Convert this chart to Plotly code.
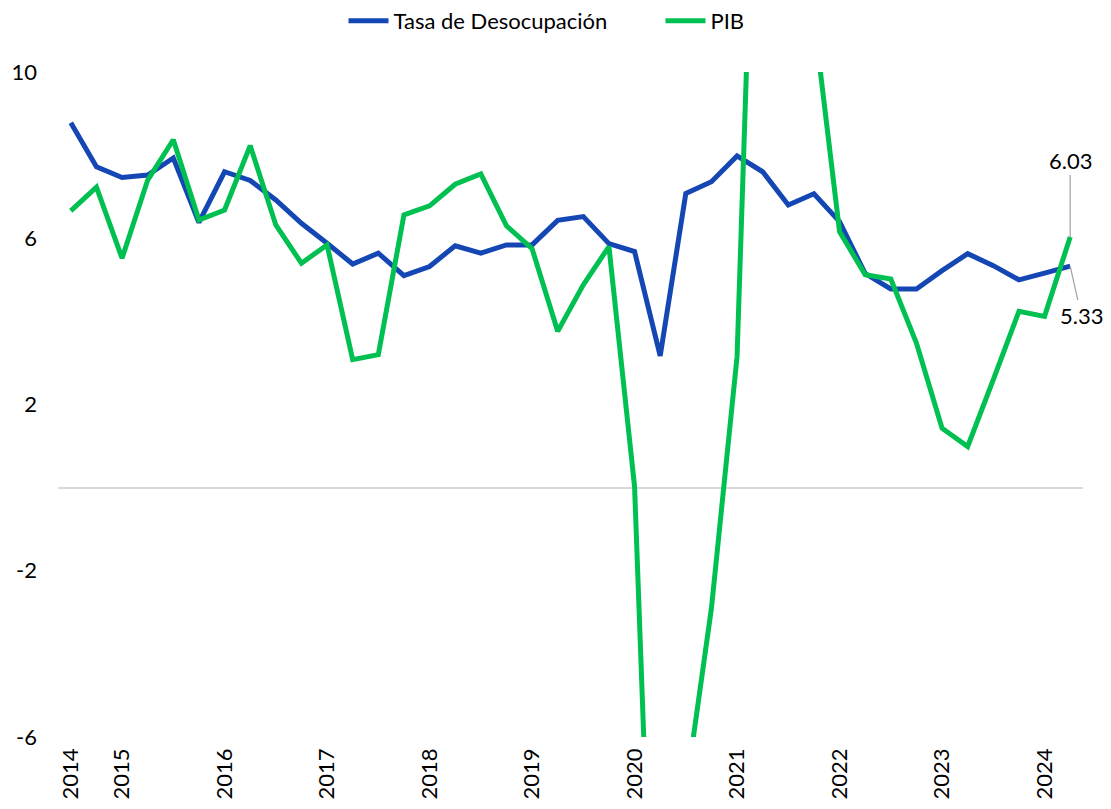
import plotly.graph_objects as go

# Quarterly, 2014 Q3 .. 2024 Q2
quarters = [f"{y}-T{q}" for y in range(2014, 2025) for q in range(1, 5)][2:42]

desocupacion = [8.78, 7.72, 7.46, 7.52, 7.93, 6.38, 7.60, 7.39, 6.92, 6.36,
                5.88, 5.38, 5.64, 5.10, 5.32, 5.82, 5.64, 5.84, 5.84, 6.43,
                6.52, 5.87, 5.68, 3.17, 7.08, 7.36, 7.98, 7.60, 6.80, 7.07,
                6.40, 5.15, 4.78, 4.78, 5.22, 5.63, 5.34, 5.00, 5.16, 5.33]

pib = [6.66, 7.23, 5.52, 7.40, 8.37, 6.44, 6.68, 8.23, 6.32, 5.40,
       5.84, 3.08, 3.20, 6.56, 6.78, 7.30, 7.55, 6.30, 5.75, 3.76,
       4.88, 5.80, 0.03, -16.8, -7.3, -2.9, 3.15, 22.0, 13.4, 11.3,
       6.16, 5.12, 5.02, 3.48, 1.43, 0.99, 2.60, 4.24, 4.12, 6.03]

tick_idx = [0, 2, 6, 10, 14, 18, 22, 26, 30, 34, 38]
tick_text = ["2014", "2015", "2016", "2017", "2018", "2019", "2020",
             "2021", "2022", "2023", "2024"]

BLUE = "#1447b4"
GREEN = "#00c052"
FONT = "Lato"
FS = 22

fig = go.Figure()
fig.add_trace(go.Scatter(x=quarters, y=desocupacion, mode="lines",
                         name="Tasa de Desocupación",
                         line=dict(color=BLUE, width=5)))
fig.add_trace(go.Scatter(x=quarters, y=pib, mode="lines", name="PIB",
                         line=dict(color=GREEN, width=5)))

fig.add_annotation(x=quarters[-1], y=pib[-1], text=f"{pib[-1]:.2f}",
                   showarrow=True, arrowhead=0, arrowwidth=1.3,
                   arrowcolor="#a6a6a6", ax=0, ay=-77,
                   font=dict(size=FS, color="#000000", family=FONT))
fig.add_annotation(x=quarters[-1], y=desocupacion[-1],
                   text=f"{desocupacion[-1]:.2f}",
                   showarrow=True, arrowhead=0, arrowwidth=1.3,
                   arrowcolor="#a6a6a6", ax=11, ay=49,
                   font=dict(size=FS, color="#000000", family=FONT))

fig.update_layout(
    width=1111, height=809,
    margin=dict(l=58, r=28, t=72, b=72, autoexpand=False),
    paper_bgcolor="white", plot_bgcolor="white",
    font=dict(family=FONT, size=FS, color="#000000"),
    showlegend=True,
    legend=dict(orientation="h", xref="container", yref="container",
                x=0.5945, xanchor="center", y=1.0, yanchor="top",
                font=dict(size=FS), itemwidth=40,
                entrywidth=262, entrywidthmode="pixels"),
    xaxis=dict(type="category", range=[-0.5, len(quarters) - 0.5],
               tickmode="array", tickvals=[quarters[i] for i in tick_idx],
               ticktext=tick_text, tickangle=-90, showgrid=False,
               showline=False, zeroline=False, ticks="",
               ticklabelstandoff=6, automargin=False),
    yaxis=dict(range=[-6, 10], tickmode="array",
               tickvals=[-6, -2, 2, 6, 10],
               ticktext=["-6", "-2", "2", "6", "10"],
               showgrid=False, showline=False, zeroline=True,
               zerolinecolor="#d9d9d9", zerolinewidth=2, ticks="",
               ticklabelstandoff=20, automargin=False),
)

fig.write_html("out.html", config={"displayModeBar": False},
               post_script="document.body.style.margin='0';")
